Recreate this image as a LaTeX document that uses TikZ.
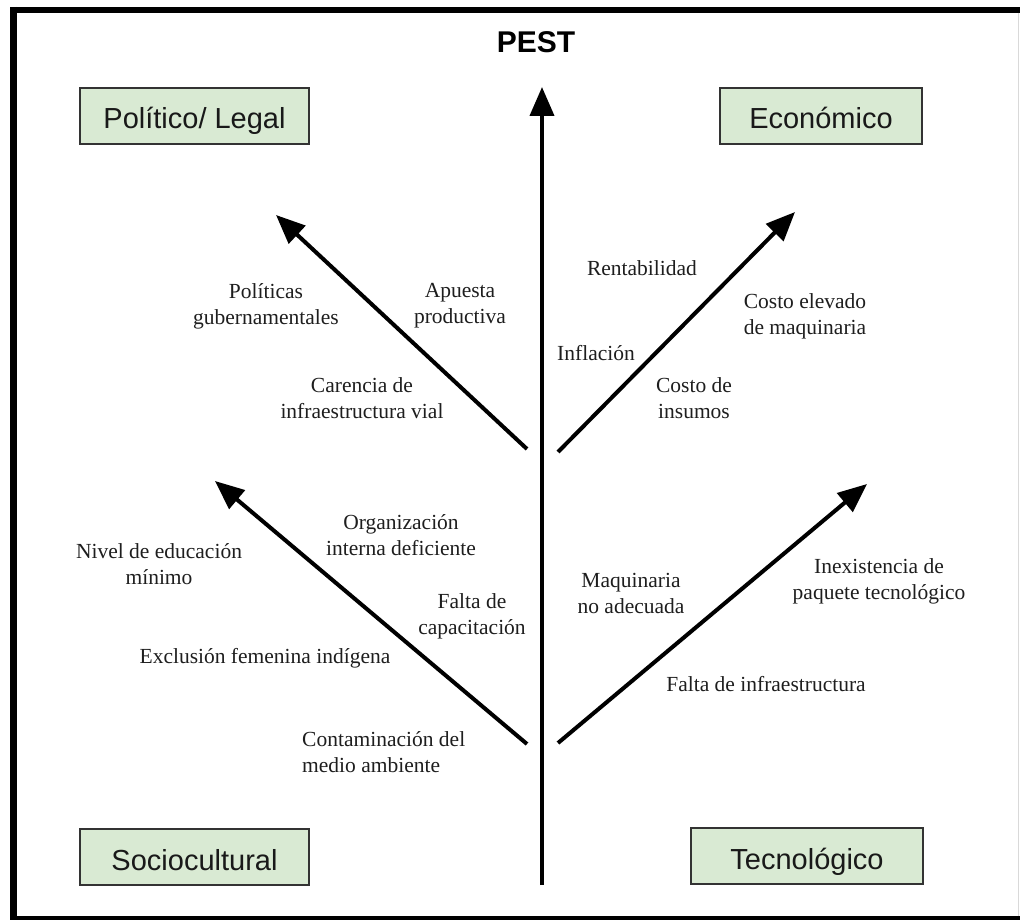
\documentclass[tikz,border=0pt]{standalone}
\usepackage{fontspec}
\setmainfont{Liberation Serif}
\newfontfamily\arialf{Liberation Sans}
\usetikzlibrary{arrows.meta}
\definecolor{boxgreen}{HTML}{D9EAD3}
\definecolor{boxline}{HTML}{333333}
\definecolor{lbl}{HTML}{1E1E1E}
\begin{document}
\begin{tikzpicture}[x=1pt,y=-1pt,
  catbox/.style={draw=boxline,line width=1.6pt,fill=boxgreen,minimum height=56pt,inner sep=0pt,
    text height=26pt,text depth=0pt,
    font=\arialf\fontsize{29}{34}\selectfont,text=black!90},
  lab/.style={inner sep=0pt,align=center,text=lbl,font=\fontsize{21.5}{26}\selectfont},
  bigarrow/.style={line width=4pt,-{Triangle[length=29pt,width=24pt]},shorten <=0pt}]
\useasboundingbox (0,0) rectangle (1020,920);
\fill[white] (0,0) rectangle (1020,920);
% frame
\draw[line width=6pt] (10,10) -- (1020,10);
\draw[line width=7pt] (13.5,7) -- (13.5,920);
\draw[line width=5pt] (10,918.5) -- (1020,918.5);
\draw[black!15,line width=1pt] (1018,13) -- (1018,916);
% title
\node[font=\arialf\bfseries\fontsize{30}{34}\selectfont,inner sep=0pt] (pest) at (536,42) {PEST};
% boxes
\node[catbox,minimum width=229pt] (pol) at (194.5,116) {Político/ Legal};
\node[catbox,minimum width=202pt] (eco) at (821,116) {Económico};
\node[catbox,minimum width=229pt] (soc) at (194.5,857) {Sociocultural};
\node[catbox,minimum width=232pt] (tec) at (807,856) {Tecnológico};
% arrows
\coordinate (vb) at (542,885);
\coordinate (vt) at (542,87);
\coordinate (pa) at (527,449);
\coordinate (pt) at (276,215);
\coordinate (ea) at (558,452);
\coordinate (et) at (795,212);
\coordinate (sa) at (527,744);
\coordinate (st) at (215,481);
\coordinate (ta) at (558,743);
\coordinate (tt) at (867,484);
\draw[bigarrow] (vb) -- (vt);
\draw[bigarrow] (pa) -- (pt);
\draw[bigarrow] (ea) -- (et);
\draw[bigarrow] (sa) -- (st);
\draw[bigarrow] (ta) -- (tt);
% political labels
\node[lab] (l1) at (266,306) {Políticas\\gubernamentales};
\node[lab] (l2) at (460,306) {Apuesta\\productiva};
\node[lab] (l3) at (362,398) {Carencia de\\infraestructura vial};
% economic labels
\node[lab] (l4) at (642,268) {Rentabilidad};
\node[lab] (l5) at (805,316) {Costo elevado\\de maquinaria};
\node[lab] (l6) at (596,353) {Inflación};
\node[lab] (l7) at (694,398) {Costo de\\insumos};
% socio labels
\node[lab] (l8) at (401,535) {Organización\\interna deficiente};
\node[lab] (l9) at (159,564) {Nivel de educación\\mínimo};
\node[lab] (l10) at (472,616) {Falta de\\capacitación};
\node[lab] (l11) at (265,658) {Exclusión femenina indígena};
\node[lab,align=left,anchor=west] (l12) at (302,752) {Contaminación del\\medio ambiente};
% tech labels
\node[lab] (l13) at (631,593) {Maquinaria\\no adecuada};
\node[lab] (l14) at (879,581) {Inexistencia de\\paquete tecnológico};
\node[lab] (l15) at (766,684) {Falta de infraestructura};
\end{tikzpicture}
\end{document}
